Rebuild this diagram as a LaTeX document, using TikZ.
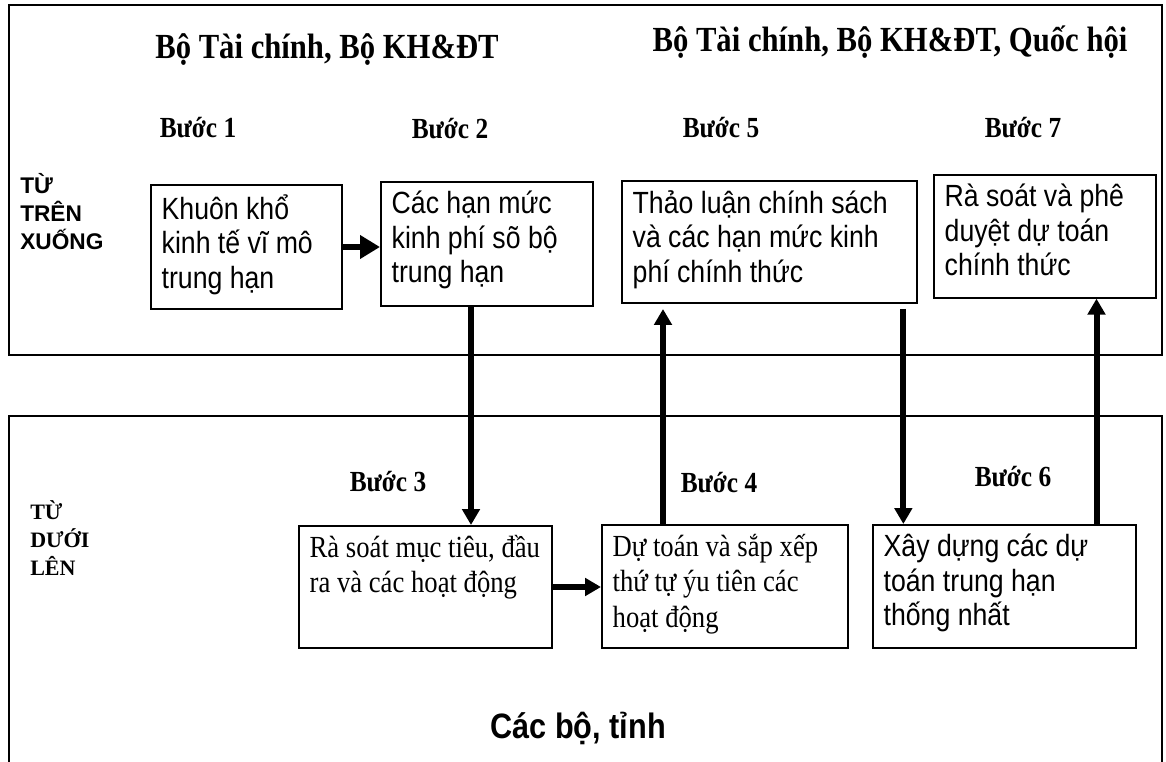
\documentclass[tikz,border=0pt]{standalone}
\usepackage{fontspec}
\usepackage{graphicx}
\setmainfont{Liberation Serif}
\setsansfont{Liberation Sans}
\usetikzlibrary{arrows.meta,calc}

\tikzset{
  stepbox/.style={draw, line width=1.5pt, anchor=north west, inner xsep=8pt, inner ysep=7pt},
  sanstext/.style={font=\sffamily\fontsize{20}{22.5}\selectfont},
  seriftext/.style={font=\fontsize{20}{23}\selectfont},
  steparrow/.style={line width=4.5pt, -{Triangle[length=12pt,width=13pt]}},
  steplabel/.style={font=\bfseries\fontsize{19}{21}\selectfont, inner sep=0pt},
  headlabel/.style={font=\bfseries\fontsize{23}{26}\selectfont, inner sep=0pt},
}
% text in the source is drawn a bit taller than wide
\newcommand{\tall}[1]{\scalebox{1}[1.15]{#1}}
\newcommand{\boxtext}[3]{\tall{\parbox[c][\dimexpr#2*100/115\relax][t]{#1}{\raggedright #3}}}

\begin{document}
\begin{tikzpicture}[x=0.75pt,y=0.75pt,yscale=-1,xscale=1]
    %Shape: Background
    \fill[white] (0,0) rectangle (1166,762);
    \useasboundingbox (0,0) rectangle (1166,762);
    %Shape: Rectangle [top frame]
    \draw[line width=1.5pt] (9,5) rectangle (1162,355);
    %Shape: Open Rectangle [bottom frame]
    \draw[line width=1.5pt] (9,770) -- (9,416) -- (1162,416) -- (1162,770);

    % Text Node
    \node[headlabel] (mofplan) at (327,50) {\tall{Bộ Tài chính, Bộ KH\&ĐT}};
    % Text Node
    \node[headlabel] (assembly) at (890,42) {\tall{Bộ Tài chính, Bộ KH\&ĐT, Quốc hội}};
    % Text Node
    \node[font=\sffamily\bfseries\fontsize{17}{21}\selectfont, align=left, anchor=west, inner sep=0pt] (topdown) at (20,212) {TỪ\\TRÊN\\XUỐNG};
    % Text Node
    \node[font=\bfseries\fontsize{16.5}{21}\selectfont, align=left, anchor=west, inner sep=0pt] (bottomup) at (30,538) {TỪ\\DƯỚI\\LÊN};
    % Text Node
    \node[font=\sffamily\bfseries\fontsize{23}{26}\selectfont, inner sep=0pt] (ministries) at (578,728) {\tall{Các bộ, tỉnh}};

    % Step labels
    \node[steplabel] (lbl1) at (198,128) {\tall{Bước 1}};
    \node[steplabel] (lbl2) at (450,129) {\tall{Bước 2}};
    \node[steplabel] (lbl5) at (721,128) {\tall{Bước 5}};
    \node[steplabel] (lbl7) at (1023,128) {\tall{Bước 7}};
    \node[steplabel] (lbl3) at (388,482) {\tall{Bước 3}};
    \node[steplabel] (lbl4) at (719,483) {\tall{Bước 4}};
    \node[steplabel] (lbl6) at (1013,477) {\tall{Bước 6}};

    % Step boxes
    \node[stepbox, sanstext] (box1) at (150,184) {\boxtext{127pt}{79pt}{Khuôn khổ\\kinh tế vĩ mô\\trung hạn}};
    \node[stepbox, sanstext] (box2) at (380,181) {\boxtext{143pt}{79pt}{Các hạn mức\\kinh phí sõ bộ\\trung hạn}};
    \node[stepbox, sanstext] (box5) at (621,180) {\boxtext{205pt}{77.5pt}{Thảo luận chính sách\\và các hạn mức kinh\\phí chính thức}};
    \node[stepbox, sanstext] (box7) at (933,174) {\boxtext{150.5pt}{78pt}{Rà soát và phê\\duyệt dự toán\\chính thức}};
    \node[stepbox, seriftext] (box3) at (298,525) {\boxtext{173.75pt}{77.5pt}{Rà soát mục tiêu, đầu\\ra và các hoạt động}};
    \node[stepbox, seriftext] (box4) at (601,524) {\boxtext{168.5pt}{78pt}{Dự toán và sắp xếp\\thứ tự ýu tiên các\\hoạt động}};
    \node[stepbox, sanstext] (box6) at (872,524) {\boxtext{181.25pt}{78pt}{Xây dựng các dự\\toán trung hạn\\thống nhất}};

    % Arrows
    \draw[steparrow, line width=5pt, -{Triangle[length=15pt,width=17pt]}] (box1.east) -- (box1.east -| box2.west);
    \coordinate (d23) at ($(box2.south)+(-16,0)$);
    \draw[steparrow] (d23) -- (d23 |- box3.north);
    \draw[steparrow, line width=5pt] (box3.east) -- (box3.east -| box4.west);
    \coordinate (u45) at ($(box4.north)+(-62,0)$);
    \draw[steparrow] (u45) -- ($(u45 |- box5.south)+(0,5)$);
    \coordinate (d56) at ($(box5.south)+(134,5)$);
    \draw[steparrow] (d56) -- (d56 |- box6.north);
    \coordinate (u67) at ($(box6.north)+(92,0)$);
    \draw[steparrow] (u67) -- (u67 |- box7.south);
\end{tikzpicture}
\end{document}
